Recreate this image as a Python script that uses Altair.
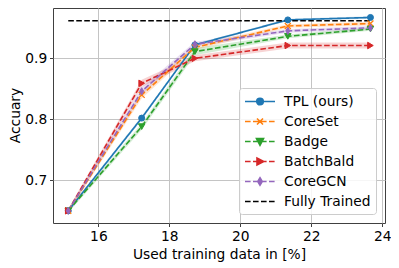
import altair as alt
import pandas as pd

# ---------------- data ----------------
x_vals = [15.15, 17.22, 18.72, 21.34, 23.67]
methods = ["TPL (ours)", "CoreSet", "Badge", "BatchBald", "CoreGCN"]
all_labels = methods + ["Fully Trained"]

tpl = [0.650, 0.802, 0.922, 0.963, 0.967]
coreset = [0.650, 0.840, 0.918, 0.953, 0.957]
badge = [0.650, 0.788, 0.911, 0.936, 0.948]
batchbald = [0.650, 0.859, 0.900, 0.921, 0.921]
coregcn = [0.650, 0.846, 0.923, 0.945, 0.950]

tpl_std = [0.002, 0.003, 0.002, 0.002, 0.002]
coreset_std = [0.003, 0.006, 0.004, 0.003, 0.003]
badge_std = [0.003, 0.005, 0.006, 0.003, 0.003]
batchbald_std = [0.003, 0.006, 0.005, 0.005, 0.005]
coregcn_std = [0.003, 0.006, 0.004, 0.003, 0.003]

fully_trained_x = [15.15, 23.67]
fully_trained_acc = [0.9616, 0.9616]

x_ticks = [16, 18, 20, 22, 24]
y_ticks = [0.7, 0.8, 0.9]

# ---------------- styles ----------------
colors = ["#1f77b4", "#ff7f0e", "#2ca02c", "#d62728", "#9467bd", "#000000"]
dash = [5.6, 2.4]
FONT = "DejaVu Sans"
FS = 13.8

series = [tpl, coreset, badge, batchbald, coregcn]
stds = [tpl_std, coreset_std, badge_std, batchbald_std, coregcn_std]
rows = []
for m, vals, sd in zip(methods, series, stds):
    for x, v, s in zip(x_vals, vals, sd):
        rows.append({"method": m, "x": x, "acc": v, "lo": v - s, "hi": v + s})
df = pd.DataFrame(rows)
ft_df = pd.DataFrame({"x": fully_trained_x, "acc": fully_trained_acc})

xscale = alt.Scale(domain=[14.72, 24.08], nice=False, zero=False)
yscale = alt.Scale(domain=[0.630, 0.9825], nice=False, zero=False)
color_scale = alt.Scale(domain=methods, range=colors[:5])

xenc = alt.X("x:Q", scale=xscale, axis=alt.Axis(
    values=x_ticks, format="d", title="Used training data in [%]",
    titleBaseline="alphabetic", titleY=35, titleX=166,
    tickSize=3.5, labelPadding=3))
yenc = alt.Y("acc:Q", scale=yscale, axis=alt.Axis(
    values=y_ticks, format=".1f", title="Accuary",
    titleBaseline="alphabetic", titleX=-33.5, titleY=107,
    tickSize=3.5, labelPadding=2.8))

band = alt.Chart(df).mark_area(opacity=0.2).encode(
    x=xenc, y=alt.Y("lo:Q", scale=yscale), y2="hi:Q",
    color=alt.Color("method:N", scale=color_scale, legend=None),
    detail="method:N",
)

line = alt.Chart(df).mark_line(strokeWidth=1.6).encode(
    x=xenc, y=yenc,
    color=alt.Color("method:N", scale=color_scale, legend=None),
    strokeDash=alt.StrokeDash("method:N", scale=alt.Scale(
        domain=methods, range=[[1, 0], dash, dash, dash, dash]), legend=None),
    detail="method:N",
)

ft_line = alt.Chart(ft_df).mark_line(strokeWidth=1.6, color="black", strokeDash=dash).encode(
    x=alt.X("x:Q", scale=xscale), y=alt.Y("acc:Q", scale=yscale))

marker_shapes = ["circle", "M-1,-1L1,1M-1,1L1,-1", "triangle-down", "triangle-right",
                 "M0,-1.1L0.62,0L0,1.1L-0.62,0Z"]
marker_filled = [True, False, True, True, True]
marker_sizes = [36, 36, 42, 42, 42]
point_layers = []
for m, shp, fl, sz, c in zip(methods, marker_shapes, marker_filled, marker_sizes, colors):
    point_layers.append(
        alt.Chart(df).transform_filter(alt.datum.method == m).mark_point(
            shape=shp, filled=fl, size=sz, opacity=1,
            color=c, stroke=c, strokeWidth=1.3 if not fl else 1,
        ).encode(x=alt.X("x:Q", scale=xscale), y=alt.Y("acc:Q", scale=yscale))
    )

# ---------- legend symbols (line + marker as custom paths) ----------
U = 7.5  # px per path unit (sqrt(225)/2)
def seg_path(dashed):
    if not dashed:
        return "M-1,0H3"
    out, p = [], 0.0
    while p < 30:
        e = min(p + dash[0], 30)
        out.append(f"M{p / U - 1:.3f},0H{e / U - 1:.3f}")
        p = e + dash[1]
    return "".join(out)

r = 3.3 / U
mk_circle = f"M{1 + r:.3f},0A{r:.3f},{r:.3f} 0 1,1 {1 - r:.3f},0A{r:.3f},{r:.3f} 0 1,1 {1 + r:.3f},0Z"
mk_x = "M0.6,-0.4L1.4,0.4M0.6,0.4L1.4,-0.4"
mk_tdown = "M0.53,-0.38L1.47,-0.38L1,0.5Z"
mk_tright = "M0.6,-0.47L0.6,0.47L1.5,0Z"
mk_diam = "M1,-0.5L1.3,0L1,0.5L0.7,0Z"
legend_paths = [
    seg_path(False) + mk_circle,
    seg_path(True) + mk_x,
    seg_path(True) + mk_tdown,
    seg_path(True) + mk_tright,
    seg_path(True) + mk_diam,
    seg_path(True),
]

legend_df = pd.DataFrame({"method": all_labels})
legend_layer = alt.Chart(legend_df).transform_filter("false").mark_point(
    filled=True, opacity=1, strokeWidth=1.6, size=225).encode(
    shape=alt.Shape("method:N", scale=alt.Scale(domain=all_labels, range=legend_paths),
                    legend=alt.Legend(title=None)),
    fill=alt.Fill("method:N", scale=alt.Scale(domain=all_labels, range=colors),
                  legend=alt.Legend(title=None)),
    stroke=alt.Stroke("method:N", scale=alt.Scale(domain=all_labels, range=colors),
                      legend=alt.Legend(title=None)),
)

chart = alt.layer(band, line, ft_line, *point_layers, legend_layer).properties(
    width=332, height=215,
    autosize=alt.AutoSizeParams(type="none"),
    padding={"left": 45, "top": 0, "right": 6, "bottom": 40},
).configure_view(stroke="#404040", strokeWidth=1).configure_axis(
    domain=False, grid=True, gridColor="#c4c4c4", gridWidth=1,
    tickColor="#404040", tickWidth=1,
    labelFont=FONT, labelFontSize=FS, labelColor="black",
    titleFont=FONT, titleFontSize=FS, titleFontWeight="normal", titleColor="black",
).configure_legend(
    orient="none", legendX=186, legendY=80, padding=5,
    fillColor="rgba(255,255,255,0.85)", strokeColor="#cccccc", cornerRadius=3,
    symbolSize=225, symbolStrokeWidth=1.6, labelOffset=23, rowPadding=4,
    labelFont=FONT, labelFontSize=FS, labelColor="black", labelLimit=300,
)

chart.save("out.html", embed_options={"renderer": "svg", "actions": False})
